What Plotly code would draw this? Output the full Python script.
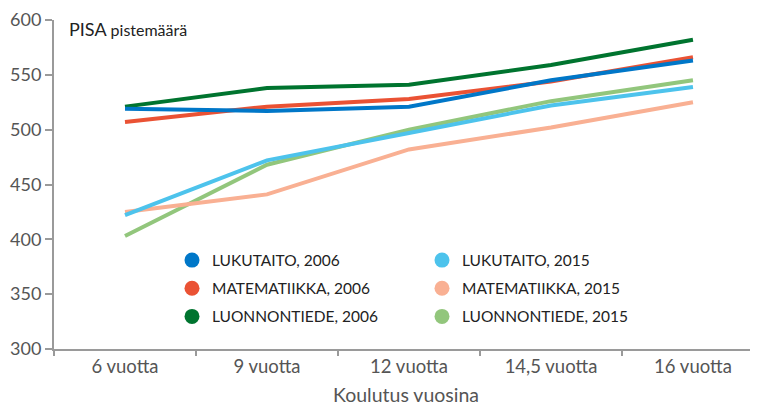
import plotly.graph_objects as go

categories = ["6 vuotta", "9 vuotta", "12 vuotta", "14,5 vuotta", "16 vuotta"]

lukutaito_2006 = [519, 517, 521, 545, 563]
matematiikka_2006 = [507, 521, 528, 544, 566]
luonnontiede_2006 = [521, 538, 541, 559, 582]
lukutaito_2015 = [422, 472, 497, 522, 539]
matematiikka_2015 = [425, 441, 482, 502, 525]
luonnontiede_2015 = [403, 468, 500, 526, 545]

y_ticks = [300, 350, 400, 450, 500, 550, 600]

series_2006 = [
    ("LUKUTAITO, 2006", lukutaito_2006, "#0077C8"),
    ("MATEMATIIKKA, 2006", matematiikka_2006, "#EA5234"),
    ("LUONNONTIEDE, 2006", luonnontiede_2006, "#00742F"),
]
series_2015 = [
    ("LUKUTAITO, 2015", lukutaito_2015, "#4DC3EC"),
    ("MATEMATIIKKA, 2015", matematiikka_2015, "#F9B093"),
    ("LUONNONTIEDE, 2015", luonnontiede_2015, "#92C67C"),
]

fig = go.Figure()
# lines: 2015 below, 2006 on top
for name, vals, col in series_2015[::-1] + series_2006[::-1]:
    fig.add_trace(go.Scatter(x=categories, y=vals, mode="lines", name=name,
                             line=dict(color=col, width=4), showlegend=False,
                             hoverinfo="skip"))
# legend entries (two columns = two legends)
for legend_id, group in (("legend", series_2006), ("legend2", series_2015)):
    for name, vals, col in group:
        fig.add_trace(go.Scatter(x=[None], y=[None], mode="markers", name=name,
                                 legend=legend_id, legendgroup=name,
                                 marker=dict(color=col, size=15), showlegend=True))

legend_common = dict(orientation="v", xanchor="left", yanchor="top",
                     font=dict(size=15.5, color="#222222"), bgcolor="rgba(0,0,0,0)",
                     tracegroupgap=5, itemsizing="trace", itemwidth=30)
legend_y = (349 - 243.5) / 329

fig.update_layout(
    width=758, height=405,
    margin=dict(l=46, r=8, t=12, b=64, autoexpand=False),
    paper_bgcolor="white", plot_bgcolor="white",
    font=dict(family="Lato", color="#555555"),
    xaxis=dict(type="category", categoryorder="array", categoryarray=categories,
               range=[-0.5, 4.458], showgrid=False, showline=True,
               linecolor="#9a9a9a", linewidth=2, ticks="outside", tickson="boundaries",
               ticklen=5, tickcolor="#9a9a9a", tickwidth=1.5, automargin=False,
               tickfont=dict(size=18.5, color="#555555"),
               title=dict(text="Koulutus vuosina", font=dict(size=19.5, color="#555555"), standoff=12)),
    yaxis=dict(range=[300, 600], tickvals=y_ticks, showgrid=False, zeroline=False,
               showline=True, linecolor="#9a9a9a", linewidth=2, ticks="outside",
               ticklen=7, tickcolor="#9a9a9a", tickwidth=1.5, automargin=False,
               ticklabelstandoff=0,
               tickfont=dict(size=18, color="#555555")),
    legend=dict(x=(172 - 54) / 704, y=legend_y, **legend_common),
    legend2=dict(x=(422 - 54) / 704, y=legend_y, **legend_common),
    annotations=[dict(text="PISA <span style='font-size:16px'>pistemäärä</span>",
                      x=(67 - 54) / 704, y=(349 - 29) / 329, xref="paper", yref="paper",
                      xanchor="left", yanchor="middle", showarrow=False,
                      font=dict(size=18, color="#222222"))],
)

fig.write_html("out.html")
